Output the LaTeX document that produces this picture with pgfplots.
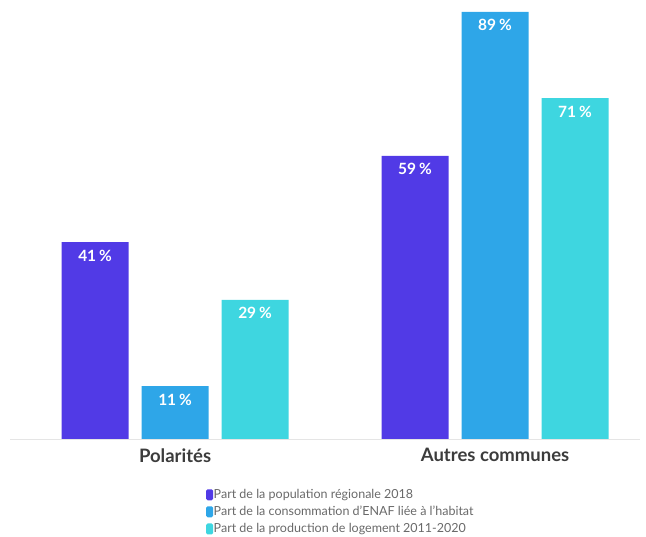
\documentclass[border=0pt]{standalone}
\usepackage{pgfplots}
\pgfplotsset{compat=1.18}
\usepackage{fontspec}
\setmainfont{Lato}
\definecolor{cpurple}{RGB}{81,58,230}
\definecolor{cblue}{RGB}{46,166,232}
\definecolor{ccyan}{RGB}{62,214,224}
\definecolor{ctxt}{RGB}{60,60,60}
\definecolor{cleg}{RGB}{105,105,105}
\begin{document}
\begin{tikzpicture}
\useasboundingbox (0,0) rectangle (646pt,537pt);
\begin{axis}[
  at={(10pt,98pt)}, anchor=south west,
  width=630pt, height=439pt, scale only axis,
  xmin=-0.516, xmax=1.453, ymin=0, ymax=91.46,
  ybar=13pt, bar width=67pt,
  hide y axis,
  axis x line*=bottom,
  x axis line style={draw=black!10, line width=0.8pt},
  xtick={0,1}, xticklabels={Polarités, Autres communes},
  major tick length=0pt,
  xticklabel style={font=\bfseries\fontsize{18.5}{20}\selectfont, text=ctxt, yshift=-6pt},
  nodes near coords={\pgfmathprintnumber[assume math mode=true]{\pgfplotspointmeta}\kern3pt\%},
  every node near coord/.append style={font=\bfseries\fontsize{15.5}{17}\selectfont, text=white, anchor=north, yshift=-4pt},
  every axis plot post/.append style={legend image code/.code={\fill[##1, rounded corners=1.5pt] (0pt,-5.5pt) rectangle (7pt,5.5pt);}},
  legend style={at={(axis description cs:0.311,-0.113)}, anchor=north west, draw=none, fill=none,
    font=\fontsize{12.5}{14}\selectfont, text=cleg, row sep=5pt, inner sep=0pt,
    nodes={inner sep=0.6pt}},
  legend cell align=left,
  clip=false,
]
\addplot[draw=none, fill=cpurple] coordinates {(0,41) (1,59)};
\addplot[draw=none, fill=cblue] coordinates {(0,11) (1,89)};
\addplot[draw=none, fill=ccyan] coordinates {(0,29) (1,71)};
\legend{Part de la population régionale 2018, Part de la consommation d'ENAF liée à l'habitat, Part de la production de logement 2011-2020}
\end{axis}
\end{tikzpicture}
\end{document}
